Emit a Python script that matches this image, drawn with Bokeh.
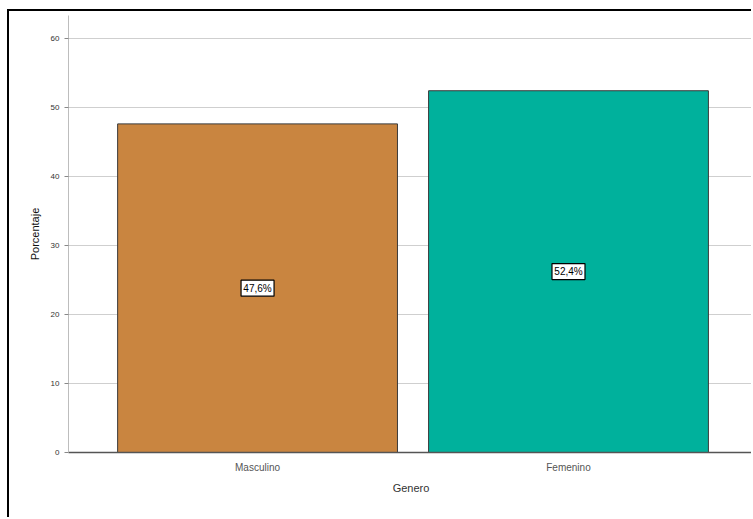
from bokeh.plotting import figure
from bokeh.models import ColumnDataSource, FixedTicker, Range1d
from bokeh.core.properties import value
from bokeh.embed import file_html
from bokeh.resources import INLINE

categories = ["Masculino", "Femenino"]
percentages = [47.6, 52.4]
bar_labels = ["47,6%", "52,4%"]
bar_colors = ["#C98540", "#00B19C"]
y_ticks = [0, 10, 20, 30, 40, 50, 60]

xs = list(range(1, len(categories) + 1))
src = ColumnDataSource(dict(
    x=xs,
    top=percentages,
    mid=[v / 2 for v in percentages],
    label=bar_labels,
    color=bar_colors,
))

p = figure(
    width=744, height=508,
    output_backend="svg", toolbar_location=None,
    x_range=Range1d(0.392, 2.595), y_range=Range1d(0, 63.3),
    min_border_left=59, min_border_top=4, min_border_bottom=67, min_border_right=0,
)
p.styles = {
    "margin-left": "7px", "margin-top": "9px",
    "border-left": "2px solid black", "border-top": "2px solid black",
}
p.outline_line_color = None
p.background_fill_color = "white"

p.vbar(x="x", top="top", bottom=0, width=0.9, source=src,
       fill_color="color", line_color="#3a3a3a", line_width=1)

p.rect(x="x", y="mid", width=33, height=16, width_units="screen", height_units="screen",
       source=src, fill_color="white", line_color="black", line_width=1.2)
p.text(x="x", y="mid", text="label", source=src,
       text_align="center", text_baseline="middle",
       text_font_size="10px", text_font=value("Liberation Sans"), text_color="black")

# grid
p.xgrid.grid_line_color = None
p.ygrid.grid_line_color = "#cfcfcf"
p.ygrid.grid_line_width = 1

# y axis
p.yaxis.ticker = FixedTicker(ticks=y_ticks)
p.yaxis.axis_label = "Porcentaje"
p.yaxis.axis_label_text_font = "Liberation Sans"
p.yaxis.axis_label_text_font_style = "normal"
p.yaxis.axis_label_text_font_size = "11px"
p.yaxis.axis_label_text_color = "#111111"
p.yaxis.axis_label_standoff = 7
p.yaxis.major_label_text_font = "Liberation Sans"
p.yaxis.major_label_text_font_size = "8px"
p.yaxis.major_label_text_color = "#333333"
p.yaxis.axis_line_color = "#bdbdbd"
p.yaxis.major_tick_line_color = "#888888"
p.yaxis.major_tick_out = 4
p.yaxis.major_tick_in = 0
p.yaxis.minor_tick_line_color = None
p.yaxis.major_label_standoff = 5

# x axis
p.xaxis.ticker = FixedTicker(ticks=xs)
p.xaxis.major_label_overrides = {x: c for x, c in zip(xs, categories)}
p.xaxis.axis_label = "Genero"
p.xaxis.axis_label_text_font = "Liberation Sans"
p.xaxis.axis_label_text_font_style = "normal"
p.xaxis.axis_label_text_font_size = "11px"
p.xaxis.axis_label_text_color = "#333333"
p.xaxis.axis_label_standoff = 6
p.xaxis.major_label_text_font = "Liberation Sans"
p.xaxis.major_label_text_font_size = "10px"
p.xaxis.major_label_text_color = "#555555"
p.xaxis.major_label_standoff = 3
p.xaxis.axis_line_color = "#555555"
p.xaxis.axis_line_width = 1.5
p.xaxis.major_tick_line_color = None
p.xaxis.minor_tick_line_color = None

open("out.html", "w").write(file_html(p, INLINE))
